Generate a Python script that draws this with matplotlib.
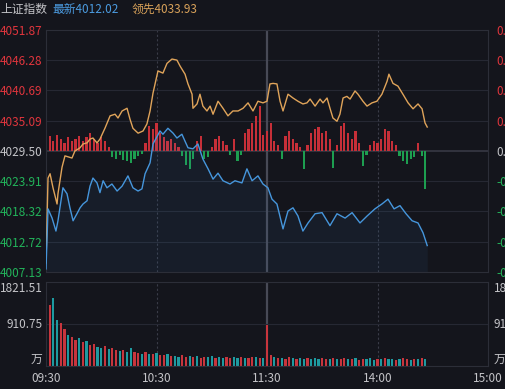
import numpy as np
import matplotlib
matplotlib.use('Agg')
import matplotlib.pyplot as plt

plt.rcParams['font.family'] = ['Noto Sans CJK SC', 'DejaVu Sans']

# axis labels
price_ticks = [4051.87, 4046.28, 4040.69, 4035.09, 4029.50, 4023.91, 4018.32, 4012.72, 4007.13]
pct_labels = ['0.56%', '0.42%', '0.28%', '0.14%', '0.00%', '-0.14%', '-0.28%', '-0.42%', '-0.56%']
vol_ticks = [1821.51, 910.75]
time_ticks = [0, 60, 120, 180, 240]
time_labels = ['09:30', '10:30', '11:30', '14:00', '15:00']
base = 4029.50

# index line (minutes since 09:30, price)
blue_min = [0, 1.1, 3.3, 5.4, 6.5, 9.2, 11.4, 13.0, 14.7, 16.8, 18.5, 20.1, 22.3, 23.9, 25.5,
            27.7, 29.3, 31.0, 33.1, 35.8, 38.6, 41.3, 44.5, 47.2, 50.0, 52.1, 53.8, 56.5, 58.1,
            61.9, 63.5, 66.2, 69.0, 71.1, 73.8, 75.5, 77.1, 79.8, 82.5, 85.2, 88.0, 90.7, 93.4,
            96.1, 99.9, 102.6, 106.4, 109.1, 111.9, 115.1, 117.8, 120.5, 122.7, 125.4, 128.7,
            131.4, 134.1, 136.8, 139.5, 142.3, 146.1, 149.9, 154.2, 158.0, 162.4, 166.2, 170.5,
            174.4, 178.6, 182.4, 185.7, 189.0, 192.2, 195.5, 198.8, 202.0, 204.7, 207]
blue_px = [4007.7, 4018.8, 4017.1, 4014.7, 4016.6, 4022.7, 4021.6, 4019.0, 4016.6, 4017.9,
           4019.0, 4019.7, 4020.3, 4023.0, 4024.5, 4023.6, 4021.8, 4024.0, 4022.7, 4023.4,
           4022.1, 4023.0, 4024.9, 4022.7, 4022.1, 4022.5, 4025.3, 4027.3, 4030.8, 4033.2,
           4032.6, 4033.7, 4032.8, 4031.9, 4032.6, 4031.3, 4030.1, 4029.9, 4030.8, 4028.0,
           4026.2, 4024.3, 4025.4, 4024.0, 4023.4, 4024.0, 4023.6, 4026.2, 4024.0, 4024.9,
           4023.4, 4022.7, 4020.6, 4019.7, 4015.1, 4018.4, 4019.0, 4017.5, 4014.7, 4016.2,
           4017.9, 4018.1, 4015.7, 4017.9, 4017.1, 4018.1, 4016.2, 4017.5, 4018.8, 4019.7,
           4020.6, 4018.8, 4019.4, 4017.9, 4016.6, 4016.2, 4014.4, 4012.02]

# leading line
org_min = [0, 1.1, 2.2, 3.8, 6.0, 6.5, 8.7, 10.3, 14.1, 15.7, 18.5, 20.1, 22.3, 23.9, 25.5,
           27.7, 29.3, 32.0, 34.8, 37.5, 39.1, 41.3, 44.0, 45.6, 47.2, 50.0, 52.7, 54.8, 56.5,
           58.1, 60.8, 63.5, 65.7, 68.4, 71.1, 72.8, 75.5, 77.1, 79.3, 79.8, 82.0, 83.6, 85.2,
           87.4, 89.1, 90.7, 93.4, 96.1, 98.8, 101.5, 104.3, 107.0, 109.7, 112.4, 115.1, 117.8,
           120.0, 121.6, 123.3, 125.4, 127.1, 128.7, 131.4, 134.1, 136.8, 139.5, 141.7, 143.4,
           146.1, 148.8, 150.4, 152.6, 154.2, 155.8, 158.0, 159.6, 161.3, 163.4, 165.1, 167.8,
           169.4, 172.1, 174.3, 177.0, 179.7, 182.4, 185.2, 186.2, 188.4, 191.1, 193.8, 196.6,
           199.3, 202.0, 204.2, 205.8, 207]
org_px = [4008.8, 4024.5, 4025.3, 4022.7, 4019.7, 4021.6, 4026.5, 4028.6, 4028.2, 4029.5,
          4030.1, 4030.8, 4031.0, 4031.7, 4031.9, 4031.0, 4031.7, 4033.7, 4036.0, 4036.3,
          4035.6, 4036.9, 4037.4, 4035.4, 4033.7, 4032.8, 4033.2, 4034.5, 4036.9, 4040.2,
          4044.3, 4043.9, 4045.7, 4046.5, 4046.3, 4045.2, 4043.7, 4041.9, 4040.0, 4037.4,
          4038.2, 4040.0, 4037.8, 4036.9, 4037.8, 4036.3, 4038.7, 4037.4, 4036.0, 4036.9,
          4036.9, 4037.4, 4038.4, 4036.9, 4038.7, 4038.4, 4038.7, 4041.9, 4042.0, 4041.9,
          4038.7, 4036.9, 4040.0, 4039.3, 4038.7, 4038.2, 4038.4, 4039.1, 4037.8, 4039.1,
          4038.4, 4039.3, 4037.4, 4035.6, 4035.0, 4036.3, 4039.3, 4039.6, 4039.1, 4040.6,
          4040.0, 4038.7, 4037.8, 4038.4, 4038.7, 4040.0, 4042.4, 4043.7, 4042.0, 4041.5,
          4040.0, 4038.4, 4037.3, 4038.2, 4037.3, 4034.7, 4033.93]

# red/green bars around the base line, one per 2 minutes
diff_bar = [2.2, 2.8, 1.8, 3.0, 2.2, 1.5, 2.6, 1.8, 2.2, 2.8,
            1.8, 2.6, 3.3, 2.2, 1.5, 2.6, 1.8, 0.7, -1.1, -1.5,
            -0.7, -1.7, -1.8, -2.2, -1.5, -0.9, -0.6, 1.5, 4.6, 4.1,
            5.2, 3.3, 2.6, 1.8, 2.2, 1.5, 0.7, -0.9, -2.6, -3.3,
            -1.5, 1.8, 2.8, -1.5, -1.1, 0.7, 2.2, 2.8, 1.8, 1.1,
            -0.7, 2.2, -1.8, -0.7, 3.3, 4.1, 5.2, 6.5, 8.3, 3.0,
            3.7, 5.2, 1.8, 1.1, -1.5, 2.8, 3.7, 2.2, 1.5, 0.7,
            -3.3, 1.1, 3.3, 4.1, 4.4, 3.3, 3.7, 2.2, -3.1, 1.1,
            4.6, 5.2, 3.3, 2.2, 3.7, 1.5, -2.8, -0.7, 1.1, 1.8,
            1.5, 2.2, 4.1, 3.7, 1.8, 1.1, -0.9, -1.8, -2.4, -1.5,
            -1.1, 1.5, -0.9, -7.0]

# volume (万), one per 2 minutes
vol = [1821, 1330, 1475, 1000, 930, 800, 680, 630, 560, 600,
       520, 540, 460, 480, 420, 400, 430, 360, 380, 340,
       330, 350, 310, 400, 300, 290, 270, 300, 260, 250,
       280, 240, 230, 250, 210, 220, 200, 230, 190, 210,
       200, 220, 180, 200, 190, 210, 180, 200, 170, 190,
       180, 200, 170, 190, 180, 170, 190, 200, 180, 170,
       880, 230, 190, 170, 180, 160, 190, 170, 160, 180,
       150, 170, 160, 180, 150, 170, 160, 150, 170, 160,
       150, 180, 160, 150, 170, 140, 160, 150, 170, 140,
       160, 150, 170, 150, 160, 140, 150, 170, 150, 140,
       160, 150, 170, 160]
vol_dir = ('rrggrrgr' 'rgrgrrgg' 'rgrrgrgg' 'rrgrgrgr' 'rgrggrrg' 'rgrrggrg' 'grrggrgr'
           'rgrgrrgr' 'grrgrggr' 'gggrrgrg' 'rrgrgrrg' 'ggrgrggr' 'grrgrgrg')

bg = '#14151c'
grid_c = '#262833'
red = '#e0353d'
green = '#22b35a'
txt = '#c4c4c8'

fig = plt.figure(figsize=(5.05, 3.89), dpi=100, facecolor=bg)
ax = fig.add_axes([46 / 505, 1 - 272 / 389, 442 / 505, 242 / 389], facecolor=bg)
axv = fig.add_axes([46 / 505, 1 - 366 / 389, 442 / 505, 84 / 389], facecolor=bg)

# price panel
for v in price_ticks[1:-1]:
    if v == base:
        ax.axhline(v, color='#3a3c48', lw=1.1, zorder=1)
    else:
        ax.axhline(v, color=grid_c, lw=0.8, zorder=1)
for a in (ax, axv):
    a.axvline(60, color='#3a3c48', lw=0.8, ls=(0, (2, 2)), zorder=1)
    a.axvline(120, color='#484a56', lw=1.6, zorder=1)
    a.axvline(180, color='#3a3c48', lw=0.8, ls=(0, (2, 2)), zorder=1)
    a.set_xlim(0, 240)
    for s in a.spines.values():
        s.set_color('#2c2e38')
        s.set_linewidth(0.8)

bar_t = np.arange(len(diff_bar)) * 2
diff_bar = np.array(diff_bar)
bar_c = np.where(diff_bar >= 0, '#c62f38', '#1d9e50')
ax.bar(bar_t, diff_bar, bottom=base, width=1.2, color=bar_c, zorder=2)

ax.fill_between(blue_min, blue_px, price_ticks[-1], color='#3f8fd8', alpha=0.07, lw=0, zorder=2)
ax.plot(org_min, org_px, color='#e0a45a', lw=1.0, zorder=3)
ax.plot(blue_min, blue_px, color='#4696dc', lw=1.0, zorder=3)
ax.set_ylim(price_ticks[-1], price_ticks[0])
ax.set_xticks([])

tick_cols = [red] * 4 + [txt] + [green] * 4
ax.set_yticks(price_ticks, labels=[f'{v:.2f}' for v in price_ticks])
ax.tick_params(axis='y', length=0, pad=2.5, labelsize=8.5)
for lbl, c in zip(ax.get_yticklabels(), tick_cols):
    lbl.set_color(c)

axr = ax.twinx()
axr.set_ylim(price_ticks[-1], price_ticks[0])
axr.set_yticks(price_ticks, labels=pct_labels)
axr.tick_params(axis='y', length=0, pad=6, labelsize=8.5)
for lbl, c in zip(axr.get_yticklabels(), tick_cols):
    lbl.set_color(c)
for s in axr.spines.values():
    s.set_visible(False)

# volume panel
axv.axhline(vol_ticks[1], color=grid_c, lw=0.8, zorder=1)
vol_t = np.arange(len(vol)) * 2
vol_c = ['#c8353d' if d == 'r' else '#1e9aa0' for d in vol_dir]
axv.bar(vol_t, vol, width=1.2, color=vol_c, zorder=2)
axv.set_ylim(0, vol_ticks[0])
axv.set_yticks([])
axv.set_xticks(time_ticks, labels=time_labels)
axv.tick_params(axis='x', length=0, pad=4, labelsize=8.5, colors=txt)

ty = axv.get_yaxis_transform()
axv.text(-0.008, vol_ticks[0], f'{vol_ticks[0]:.2f}', transform=ty, ha='right', va='top',
         color=txt, fontsize=8.5)
axv.text(-0.008, vol_ticks[1], f'{vol_ticks[1]:.2f}', transform=ty, ha='right', va='center',
         color=txt, fontsize=8.5)
axv.text(-0.008, 0, '万', transform=ty, ha='right', va='bottom', color=txt, fontsize=8.5)
axv.text(1.013, vol_ticks[0], f'{vol_ticks[0]:.2f}', transform=ty, ha='left', va='top',
         color=txt, fontsize=8.5)
axv.text(1.013, vol_ticks[1], f'{vol_ticks[1]:.2f}', transform=ty, ha='left', va='center',
         color=txt, fontsize=8.5)
axv.text(1.013, 0, '万', transform=ty, ha='left', va='bottom', color=txt, fontsize=8.5)

# header
hy = 1 - 9 / 389
fig.text(0.0, hy, '上证指数', color=txt, fontsize=8.5, va='center')
fig.text(52 / 505, hy, f'最新{blue_px[-1]:.2f}', color='#4b9be0', fontsize=8.5, va='center')
fig.text(132 / 505, hy, f'领先{org_px[-1]:.2f}', color='#d9a25a', fontsize=8.5, va='center')

fig.savefig('out.png', dpi=100, facecolor=bg)
